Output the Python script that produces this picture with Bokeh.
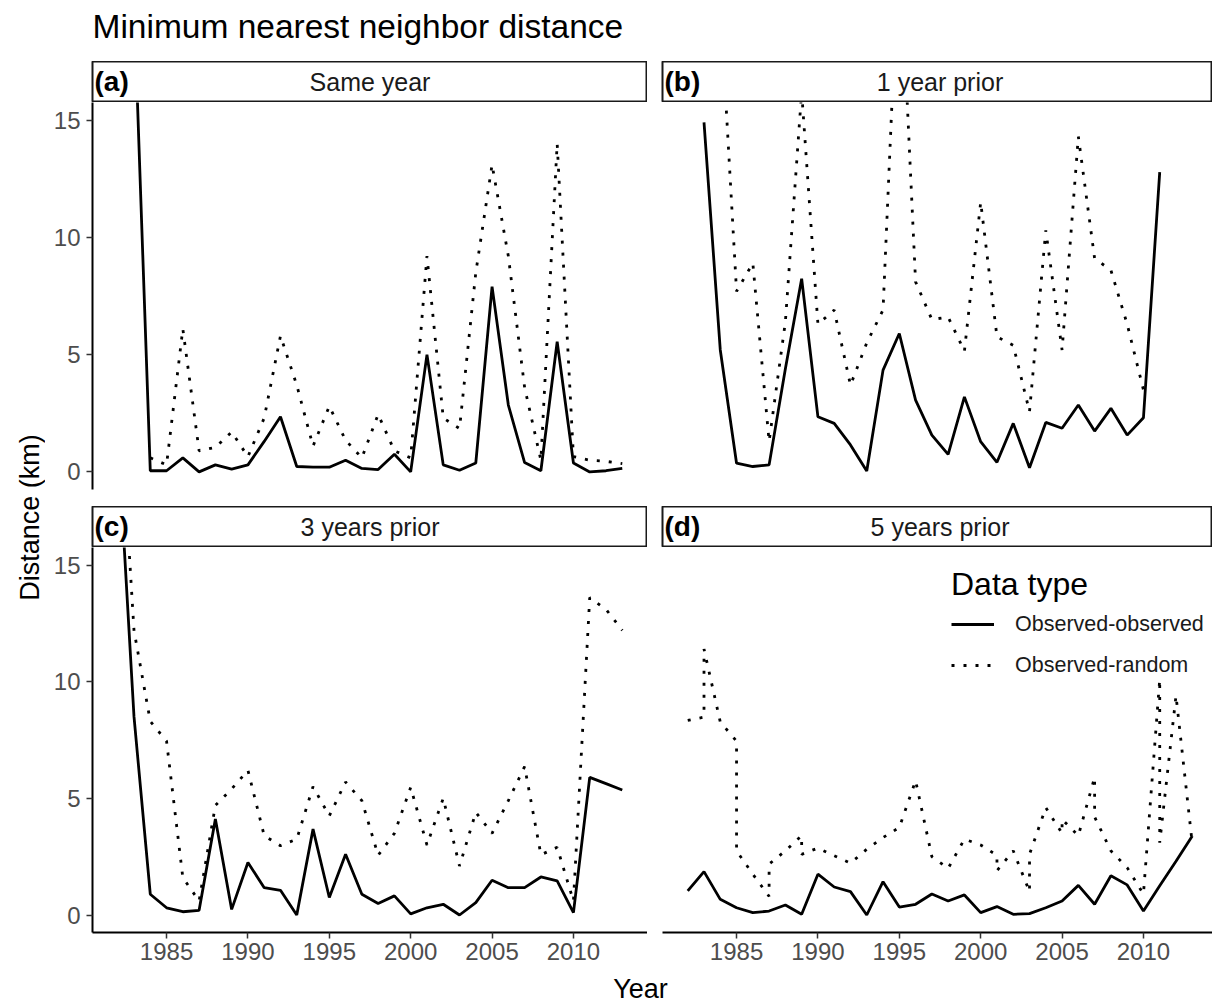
import math
from bokeh.plotting import figure
from bokeh.layouts import column, row
from bokeh.models import Range1d, FixedTicker, Label, Legend, LegendItem, ColumnDataSource
from bokeh.embed import file_html
from bokeh.resources import INLINE

FONT = "Liberation Sans"

# ---------------- data ----------------
chart_title = "Minimum nearest neighbor distance"
x_label = "Year"
y_label = "Distance (km)"
legend_title = "Data type"
series_names = ["Observed-observed", "Observed-random"]
panel_tags = ["(a)", "(b)", "(c)", "(d)"]
panel_titles = ["Same year", "1 year prior", "3 years prior", "5 years prior"]
x_ticks = [1985, 1990, 1995, 2000, 2005, 2010]
y_ticks = [0, 5, 10, 15]

# (a) Same year
a_obs_years = list(range(1983, 2014))
a_obs = [20.0, 0.05, 0.05, 0.6, 0.0, 0.3, 0.12, 0.3, 1.3, 2.35, 0.23, 0.2, 0.2, 0.5, 0.15,
         0.1, 0.75, 0.0, 5.0, 0.3, 0.07, 0.38, 7.9, 2.85, 0.4, 0.05, 5.55, 0.38, 0.0, 0.05, 0.15]
a_rnd_years = list(range(1984, 2014))
a_rnd = [0.6, 0.3, 6.1, 0.9, 1.05, 1.7, 0.65, 2.3, 5.8, 3.7, 1.1, 2.8, 1.35, 0.6, 2.45,
         0.9, 0.6, 9.2, 2.3, 1.85, 8.5, 13.1, 9.2, 3.6, 0.5, 14.0, 0.65, 0.5, 0.45, 0.35]

# (b) 1 year prior
b_obs_years = list(range(1983, 2012))
b_obs = [14.9, 5.2, 0.37, 0.23, 0.3, 4.4, 8.24, 2.35, 2.07, 1.15, 0.04, 4.34, 5.9, 3.06, 1.57,
         0.75, 3.2, 1.29, 0.41, 2.07, 0.18, 2.11, 1.86, 2.85, 1.74, 2.71, 1.57, 2.31, 12.78]
b_rnd_years = list(range(1984, 2011))
b_rnd = [20.0, 7.7, 8.9, 1.3, 6.4, 16.2, 6.3, 6.9, 3.7, 5.5, 6.9, 23.0, 8.1, 6.5, 6.6,
         5.15, 11.5, 5.76, 5.4, 2.57, 10.3, 5.2, 14.3, 9.1, 8.6, 6.3, 3.5]

# (c) 3 years prior
c_obs_years = list(range(1982, 2014))
c_obs = [20.6, 8.5, 0.89, 0.31, 0.14, 0.2, 4.11, 0.24, 2.25, 1.17, 1.06, 0.0, 3.68, 0.75, 2.6, 0.89,
         0.49, 0.82, 0.05, 0.31, 0.46, 0.0, 0.53, 1.49, 1.17, 1.17, 1.63, 1.46, 0.1, 5.9, 5.63, 5.36]
c_rnd_years = list(range(1982, 2014))
c_rnd = [23.6, 12.2, 8.3, 7.45, 1.6, 0.6, 4.7, 5.4, 6.2, 3.4, 2.97, 3.25, 5.5, 4.25, 5.7, 4.9,
         2.56, 3.5, 5.47, 3.0, 5.0, 2.1, 4.4, 3.5, 4.9, 6.36, 2.58, 2.9, 0.6, 13.6, 13.1, 12.2]

# (d) 5 years prior (the random series repeats some years)
d_obs_years = list(range(1982, 2014))
d_obs = [1.03, 1.86, 0.67, 0.31, 0.1, 0.17, 0.43, 0.03, 1.75, 1.2, 1.0, 0.0, 1.43, 0.34, 0.46, 0.9,
         0.6, 0.86, 0.1, 0.36, 0.03, 0.06, 0.31, 0.6, 1.27, 0.46, 1.68, 1.29, 0.17, 1.25, 2.3, 3.39]
d_rnd_years = [1982, 1983, 1983, 1984, 1985, 1985, 1986, 1987, 1987, 1988, 1989, 1989, 1990,
               1991, 1992, 1993, 1994, 1995, 1996, 1997, 1998, 1999, 2000, 2001, 2001, 2002,
               2003, 2003, 2004, 2005, 2005, 2006, 2007, 2007, 2008, 2009, 2010, 2011, 2011,
               2012, 2013]
d_rnd = [8.34, 8.48, 11.4, 8.27, 7.45, 2.75, 1.75, 0.8, 2.18, 2.75, 3.4, 2.6, 2.87,
         2.54, 2.22, 2.82, 3.32, 3.75, 5.76, 2.5, 2.0, 3.25, 3.0, 2.56, 1.9, 2.75,
         1.0, 2.6, 4.6, 3.5, 4.1, 3.4, 5.9, 4.2, 2.75, 2.03, 0.9, 10.1, 3.1,
         9.4, 3.05]

panels = [
    (a_obs_years, a_obs, a_rnd_years, a_rnd),
    (b_obs_years, b_obs, b_rnd_years, b_rnd),
    (c_obs_years, c_obs, c_rnd_years, c_rnd),
    (d_obs_years, d_obs, d_rnd_years, d_rnd),
]

# ---------------- layout geometry ----------------
TOTAL_W = 1212
YLAB_W = 45
LEFT_W, LEFT_MB = 602, 47      # frame 555 px
RIGHT_W, RIGHT_MB = 565, 15    # frame 550 px
STRIP_H = 41
TOP_H, TOP_MB = 404, 17
BOT_H, BOT_MB = 425, 40
TITLE_H = 61
XLAB_H = 32

X0, X1 = 1980.45, 2014.55
px_per_year = (LEFT_W - LEFT_MB) / (X1 - X0)
X1_RIGHT = X0 + (RIGHT_W - RIGHT_MB) / px_per_year
Y0, Y1 = -0.75, 15.75

TICK_COLOR = "#333333"
LABEL_COLOR = "#4d4d4d"


def blank(w, h, mbl=0):
    p = figure(width=w, height=h, x_range=Range1d(0, w - mbl), y_range=Range1d(0, h),
               x_axis_location=None, y_axis_location=None, toolbar_location=None,
               output_backend="svg", min_border_left=mbl, min_border_right=0,
               min_border_top=0, min_border_bottom=0)
    p.outline_line_color = None
    p.background_fill_color = "white"
    p.border_fill_color = "white"
    for g in p.grid:
        g.visible = False
    return p


def strip(idx, w, mbl, full_w):
    s = blank(w, STRIP_H, mbl)
    s.outline_line_color = "#1a1a1a"
    s.outline_line_width = 2
    s.add_layout(Label(x=2, y=STRIP_H / 2 + 1, text=panel_tags[idx], text_font=FONT,
                       text_font_style="bold", text_font_size="28px",
                       text_baseline="middle", text_align="left", text_color="black"))
    s.add_layout(Label(x=full_w / 2, y=STRIP_H / 2, text=panel_titles[idx], text_font=FONT,
                       text_font_size="25px", text_baseline="middle", text_align="center",
                       text_color="#1a1a1a"))
    return s


def panel(idx, w, h, mbl, mbb, xend, show_x, show_y):
    p = figure(width=w, height=h, x_range=Range1d(X0, xend), y_range=Range1d(Y0, Y1),
               x_axis_location="below" if show_x else None,
               y_axis_location="left" if show_y else None,
               toolbar_location=None, output_backend="svg",
               min_border_left=mbl, min_border_right=0, min_border_top=0, min_border_bottom=mbb)
    p.outline_line_color = None
    p.background_fill_color = "white"
    p.border_fill_color = "white"
    for g in p.grid:
        g.visible = False
    for ax in p.axis:
        ax.axis_line_color = "black"
        ax.axis_line_width = 2
        ax.major_tick_line_color = TICK_COLOR
        ax.major_tick_line_width = 1.5
        ax.major_tick_out = 6
        ax.major_tick_in = 0
        ax.minor_tick_line_color = None
        ax.major_label_text_font = FONT
        ax.major_label_text_font_size = "24px"
        ax.major_label_text_color = LABEL_COLOR
        ax.major_label_standoff = 6
    if show_x:
        p.xaxis.ticker = FixedTicker(ticks=x_ticks)
        p.xaxis.major_label_standoff = 4
    if show_y:
        p.yaxis.ticker = FixedTicker(ticks=y_ticks)
    ox, oy, rx, ry = panels[idx]
    src_o = ColumnDataSource(dict(x=ox, y=oy))
    src_r = ColumnDataSource(dict(x=rx, y=ry))
    r_obs = p.line("x", "y", source=src_o, line_color="black", line_width=2.8)
    r_rnd = p.line("x", "y", source=src_r, line_color="black", line_width=2.8, line_dash="3 9")
    return p, r_obs, r_rnd


# title
title_fig = blank(TOTAL_W, TITLE_H)
title_fig.add_layout(Label(x=92, y=35, text=chart_title, text_font=FONT, text_font_size="33.5px",
                           text_baseline="alphabetic", text_align="left", text_color="black"))

# y label
MID_H = STRIP_H * 2 + TOP_H + BOT_H
ylab_fig = blank(YLAB_W, MID_H)
ylab_fig.add_layout(Label(x=29, y=MID_H - (517 - TITLE_H), text=y_label, text_font=FONT,
                          text_font_size="27px", angle=math.pi / 2, text_align="center",
                          text_baseline="middle", text_color="black"))

left_full = LEFT_W - LEFT_MB
right_full = left_full  # the right column is cropped by the page edge

sa = strip(0, LEFT_W, LEFT_MB, left_full)
sb = strip(1, RIGHT_W, RIGHT_MB, right_full)
sc = strip(2, LEFT_W, LEFT_MB, left_full)
sd = strip(3, RIGHT_W, RIGHT_MB, right_full)

pa, _, _ = panel(0, LEFT_W, TOP_H, LEFT_MB, TOP_MB, X1, False, True)
pb, _, _ = panel(1, RIGHT_W, TOP_H, RIGHT_MB, TOP_MB, X1_RIGHT, False, False)
pc, _, _ = panel(2, LEFT_W, BOT_H, LEFT_MB, BOT_MB, X1, True, True)
pd, r_o, r_r = panel(3, RIGHT_W, BOT_H, RIGHT_MB, BOT_MB, X1_RIGHT, True, False)

legend = Legend(items=[LegendItem(label=series_names[0], renderers=[r_o]),
                       LegendItem(label=series_names[1], renderers=[r_r])],
                location=(289, 254), title=legend_title,
                title_text_font=FONT, title_text_font_size="32px", title_text_color="black",
                title_text_font_style="normal", title_standoff=8,
                label_text_font=FONT, label_text_font_size="21.5px", label_text_color="#1a1a1a",
                glyph_width=43, glyph_height=26, label_height=26, label_standoff=21,
                spacing=15, padding=0, margin=0,
                border_line_color=None, background_fill_alpha=0)
pd.add_layout(legend)

xlab_fig = blank(TOTAL_W, XLAB_H)
xlab_fig.add_layout(Label(x=640, y=16, text=x_label, text_font=FONT, text_font_size="27px",
                          text_align="center", text_baseline="middle", text_color="black"))

grid = column(row(sa, sb), row(pa, pb), row(sc, sd), row(pc, pd))
layout = column(title_fig, row(ylab_fig, grid), xlab_fig)

open("out.html", "w").write(file_html(layout, INLINE))
